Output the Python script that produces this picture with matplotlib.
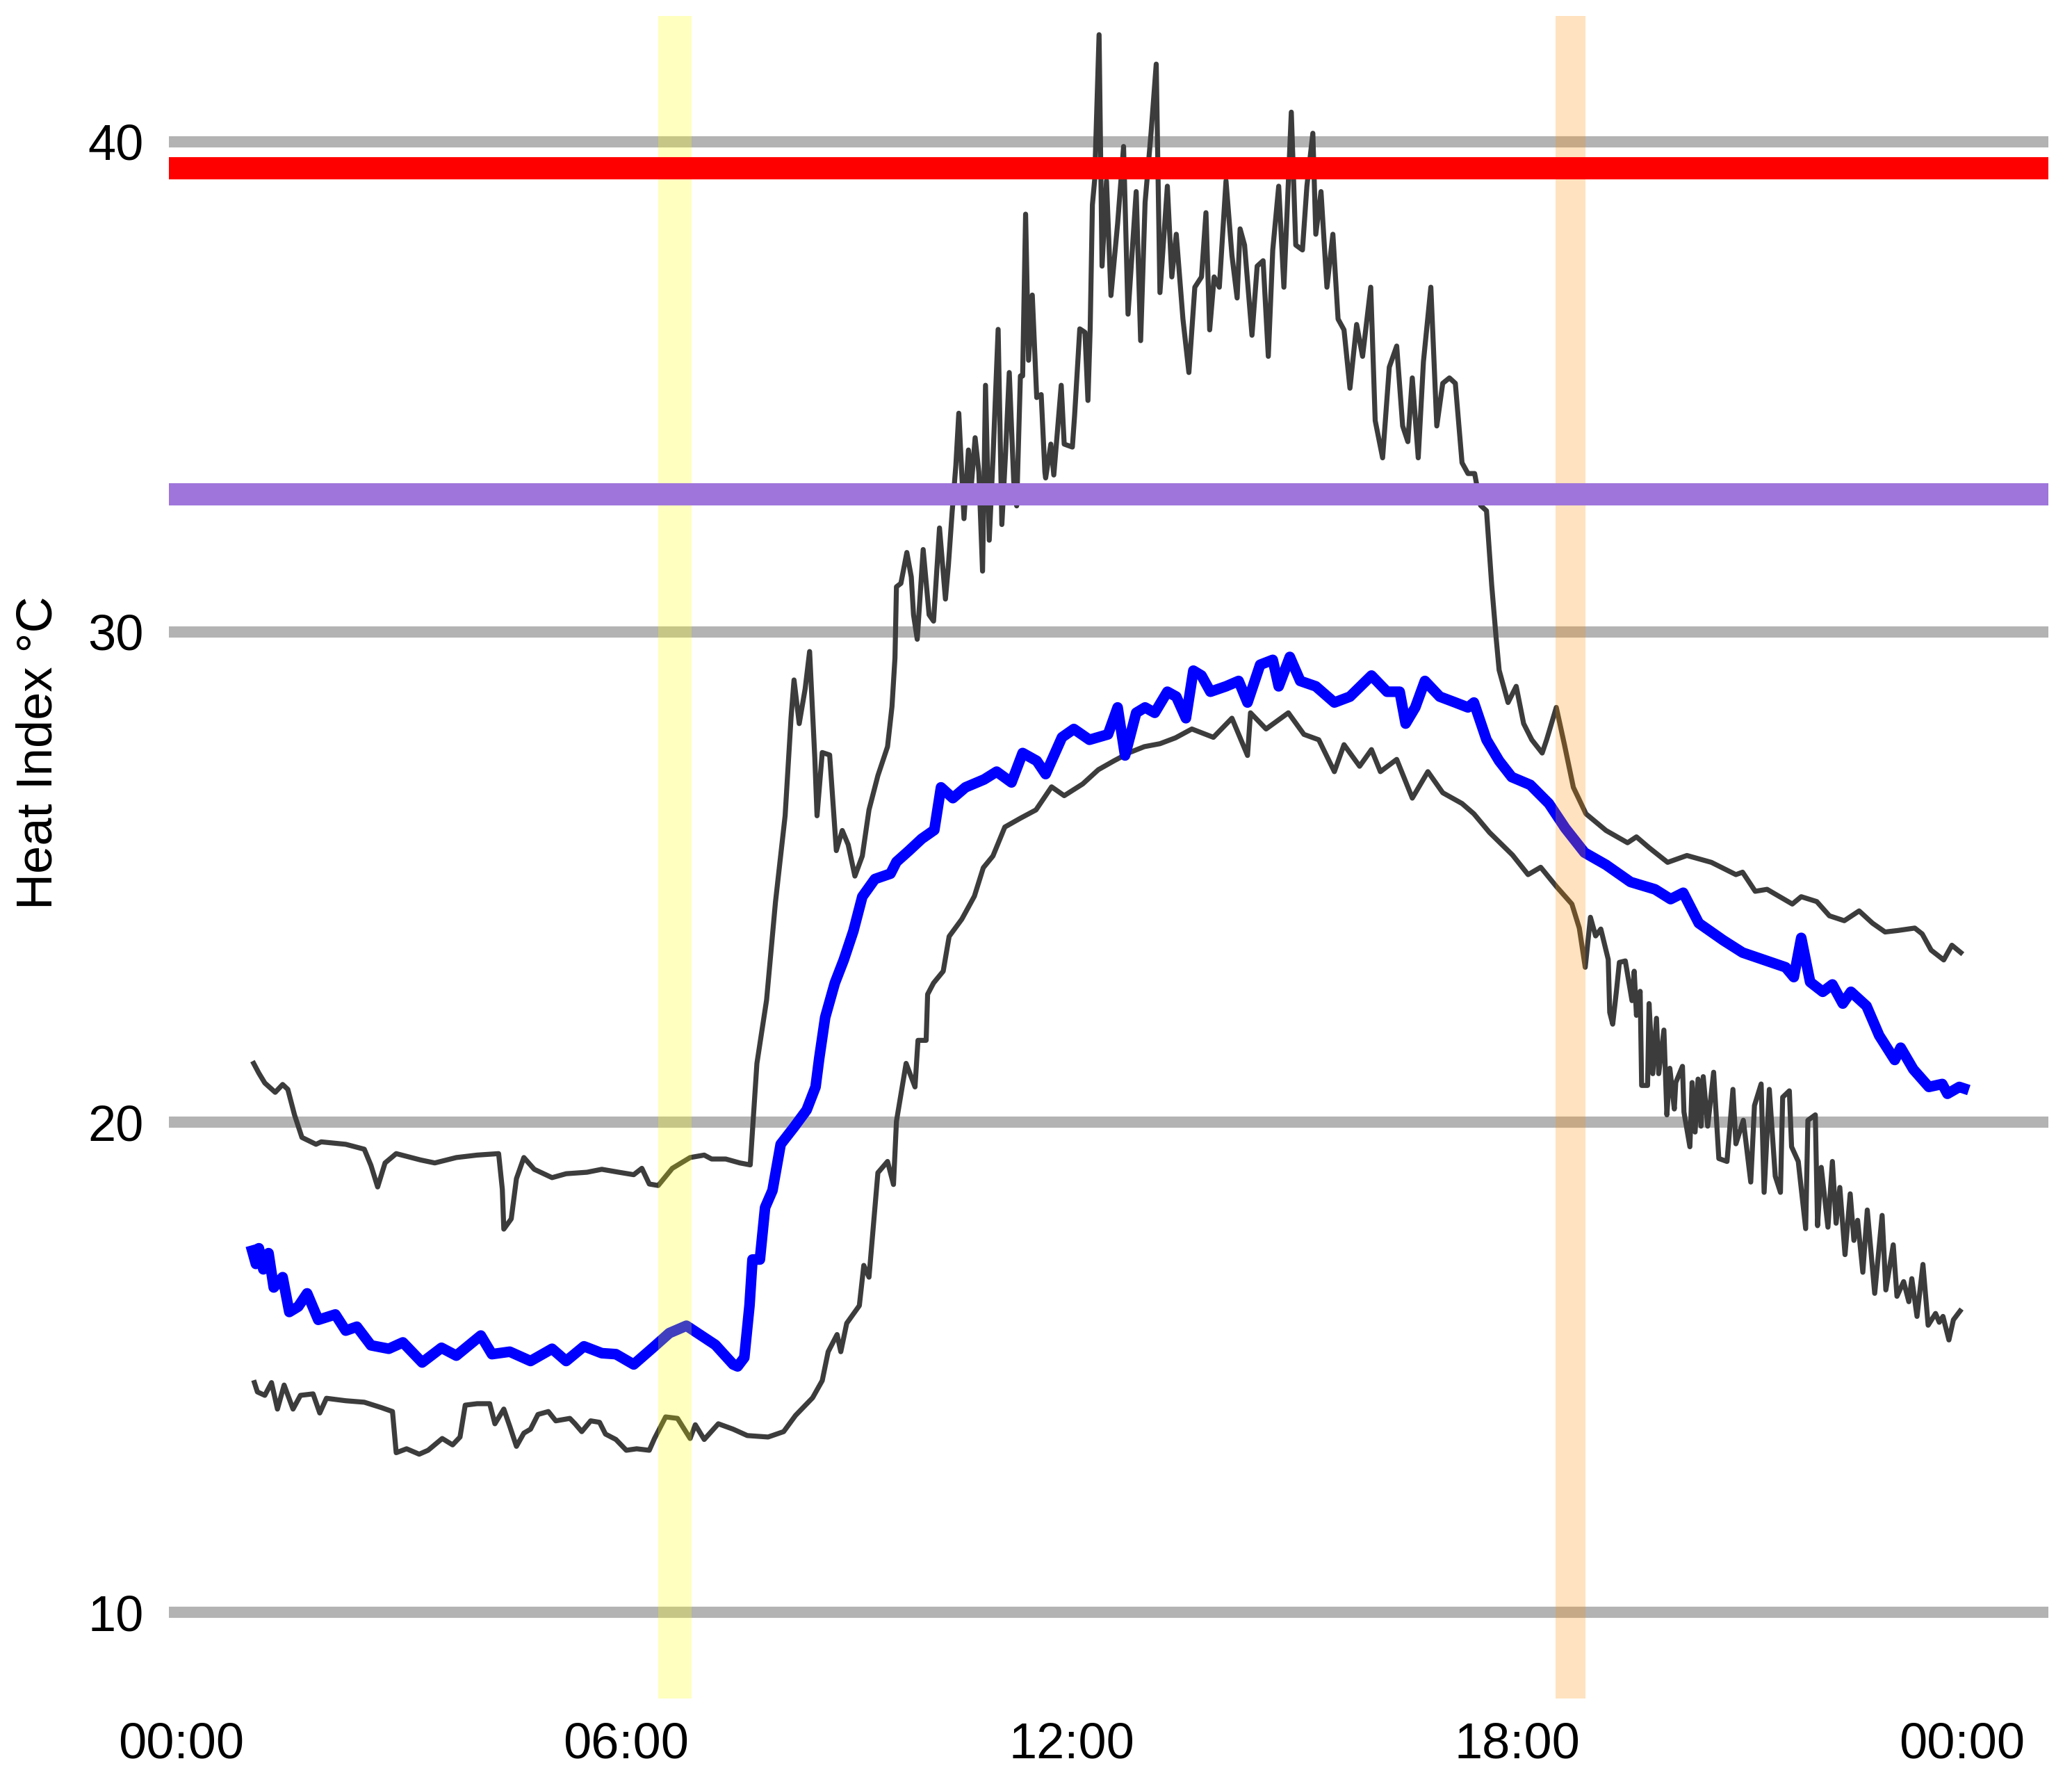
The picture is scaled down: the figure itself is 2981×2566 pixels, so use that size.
import numpy as np
import matplotlib.pyplot as plt

plt.rcParams['font.family'] = ['Liberation Sans', 'DejaVu Sans']

# (hour of day, heat index degC)
mean_series = [
    (0.96, 17.38), (1.01, 17.11), (1.05, 17.43), (1.11, 17.0), (1.18, 17.33), (1.25, 16.63),
    (1.37, 16.84), (1.46, 16.13), (1.58, 16.24), (1.70, 16.51), (1.85, 15.97), (2.08, 16.08),
    (2.22, 15.75), (2.37, 15.83), (2.56, 15.45), (2.80, 15.38), (2.99, 15.51), (3.25, 15.1),
    (3.51, 15.4), (3.71, 15.24), (4.04, 15.65), (4.19, 15.27), (4.43, 15.32), (4.71, 15.13),
    (5.00, 15.38), (5.19, 15.13), (5.43, 15.43), (5.67, 15.29), (5.86, 15.27), (6.10, 15.06),
    (6.38, 15.43), (6.58, 15.7), (6.81, 15.85), (7.01, 15.65), (7.20, 15.46), (7.44, 15.06),
    (7.50, 15.02), (7.59, 15.2), (7.66, 16.26), (7.70, 17.2), (7.80, 17.2), (7.87, 18.26),
    (7.97, 18.61), (8.08, 19.55), (8.26, 19.9), (8.43, 20.25), (8.55, 20.72), (8.60, 21.31),
    (8.68, 22.14), (8.81, 22.84), (8.93, 23.31), (9.06, 23.9), (9.18, 24.6), (9.35, 24.96),
    (9.56, 25.07), (9.64, 25.31), (9.81, 25.54), (9.98, 25.78), (10.15, 25.96), (10.24, 26.83),
    (10.40, 26.61), (10.57, 26.83), (10.82, 26.99), (10.99, 27.15), (11.19, 26.93), (11.34, 27.53),
    (11.53, 27.37), (11.65, 27.1), (11.87, 27.85), (12.03, 28.02), (12.24, 27.8), (12.49, 27.91),
    (12.62, 28.46), (12.72, 27.48), (12.87, 28.35), (12.99, 28.46), (13.12, 28.35), (13.29, 28.78),
    (13.41, 28.68), (13.54, 28.24), (13.64, 29.21), (13.75, 29.11), (13.87, 28.78), (14.08, 28.89),
    (14.25, 29.0), (14.37, 28.56), (14.54, 29.33), (14.71, 29.43), (14.79, 28.89), (14.94, 29.49),
    (15.08, 29.0), (15.29, 28.89), (15.54, 28.56), (15.75, 28.68), (16.04, 29.11), (16.25, 28.78),
    (16.42, 28.78), (16.50, 28.13), (16.63, 28.46), (16.76, 29.0), (16.96, 28.68), (17.17, 28.56),
    (17.34, 28.46), (17.42, 28.56), (17.59, 27.8), (17.76, 27.37), (17.93, 27.04), (18.18, 26.88),
    (18.43, 26.5), (18.65, 26.0), (18.91, 25.5), (19.20, 25.25), (19.53, 24.9), (19.86, 24.75),
    (20.07, 24.55), (20.24, 24.68), (20.45, 24.06), (20.78, 23.71), (21.04, 23.46), (21.33, 23.31),
    (21.62, 23.16), (21.73, 22.96), (21.83, 23.76), (21.95, 22.86), (22.12, 22.66), (22.25, 22.81),
    (22.39, 22.42), (22.50, 22.66), (22.71, 22.37), (22.88, 21.77), (23.09, 21.27), (23.17, 21.52),
    (23.34, 21.08), (23.55, 20.72), (23.73, 20.78), (23.80, 20.58), (23.96, 20.72), (24.02, 20.69),
]

max_series = [
    (0.98, 21.2), (1.05, 21.0), (1.13, 20.8), (1.27, 20.61), (1.37, 20.77), (1.44, 20.67),
    (1.53, 20.15), (1.63, 19.69), (1.82, 19.55), (1.89, 19.6), (2.22, 19.55), (2.47, 19.45),
    (2.56, 19.12), (2.65, 18.68), (2.75, 19.17), (2.90, 19.36), (3.23, 19.23), (3.42, 19.17),
    (3.71, 19.28), (3.99, 19.33), (4.28, 19.36), (4.33, 18.63), (4.35, 17.82), (4.45, 18.03),
    (4.52, 18.85), (4.62, 19.28), (4.76, 19.04), (5.00, 18.87), (5.19, 18.95), (5.47, 18.98),
    (5.67, 19.04), (5.90, 18.98), (6.10, 18.93), (6.21, 19.06), (6.31, 18.74), (6.43, 18.71),
    (6.62, 19.06), (6.86, 19.28), (7.05, 19.33), (7.15, 19.25), (7.34, 19.25), (7.53, 19.17),
    (7.67, 19.13), (7.76, 21.2), (7.89, 22.49), (8.01, 24.49), (8.14, 26.25), (8.22, 28.25),
    (8.26, 29.02), (8.33, 28.13), (8.41, 28.84), (8.47, 29.6), (8.54, 27.43), (8.57, 26.25),
    (8.64, 27.54), (8.74, 27.49), (8.83, 25.54), (8.91, 25.95), (8.99, 25.66), (9.08, 25.02),
    (9.18, 25.43), (9.27, 26.37), (9.39, 27.07), (9.52, 27.66), (9.58, 28.48), (9.62, 29.47),
    (9.64, 30.92), (9.70, 30.99), (9.78, 31.62), (9.84, 31.12), (9.87, 30.35), (9.92, 29.85),
    (10.00, 31.68), (10.08, 30.35), (10.14, 30.22), (10.22, 32.12), (10.30, 30.67), (10.34, 31.36),
    (10.39, 32.44), (10.44, 33.39), (10.48, 34.46), (10.55, 32.31), (10.61, 33.71), (10.65, 33.01),
    (10.70, 33.96), (10.75, 33.26), (10.80, 31.24), (10.84, 35.03), (10.89, 31.87), (10.94, 33.52),
    (11.01, 36.17), (11.06, 32.19), (11.11, 33.64), (11.16, 35.29), (11.22, 33.07), (11.26, 32.57),
    (11.31, 35.22), (11.34, 35.22), (11.38, 38.52), (11.42, 35.54), (11.47, 36.87), (11.53, 34.78),
    (11.59, 34.84), (11.64, 33.26), (11.65, 33.14), (11.72, 33.83), (11.76, 33.2), (11.86, 35.03),
    (11.90, 33.83), (12.01, 33.77), (12.04, 34.41), (12.11, 36.18), (12.18, 36.11), (12.22, 34.72),
    (12.25, 36.18), (12.28, 38.71), (12.31, 39.21), (12.37, 42.18), (12.41, 37.46), (12.47, 39.2),
    (12.53, 36.86), (12.62, 38.33), (12.70, 39.9), (12.76, 36.48), (12.87, 38.98), (12.93, 35.94),
    (12.99, 38.76), (13.07, 40.17), (13.14, 41.58), (13.19, 36.92), (13.29, 39.09), (13.35, 37.24),
    (13.41, 38.11), (13.50, 36.38), (13.58, 35.29), (13.66, 37.03), (13.75, 37.24), (13.81, 38.55),
    (13.86, 36.16), (13.92, 37.24), (13.99, 37.03), (14.08, 39.2), (14.16, 37.68), (14.23, 36.81),
    (14.27, 38.22), (14.33, 37.89), (14.43, 36.05), (14.50, 37.46), (14.58, 37.57), (14.65, 35.62),
    (14.71, 37.79), (14.79, 39.09), (14.86, 37.03), (14.96, 40.6), (15.02, 37.89), (15.11, 37.79),
    (15.17, 39.09), (15.25, 40.17), (15.29, 38.11), (15.36, 38.98), (15.44, 37.03), (15.52, 38.11),
    (15.59, 36.38), (15.67, 36.16), (15.75, 34.97), (15.84, 36.27), (15.92, 35.62), (16.03, 37.03),
    (16.09, 34.31), (16.19, 33.55), (16.28, 35.4), (16.38, 35.83), (16.46, 34.2), (16.53, 33.88),
    (16.59, 35.18), (16.67, 33.55), (16.74, 35.51), (16.84, 37.03), (16.92, 34.2), (17.00, 35.07),
    (17.09, 35.18), (17.17, 35.07), (17.26, 33.45), (17.34, 33.23), (17.43, 33.23), (17.51, 32.58),
    (17.59, 32.47), (17.66, 30.95), (17.72, 29.87), (17.76, 29.22), (17.88, 28.56), (17.99, 28.89),
    (18.09, 28.13), (18.20, 27.8), (18.34, 27.53), (18.40, 27.8), (18.53, 28.46), (18.64, 27.7),
    (18.76, 26.83), (18.93, 26.29), (19.20, 25.95), (19.49, 25.7), (19.61, 25.82), (19.78, 25.6),
    (20.03, 25.3), (20.29, 25.44), (20.62, 25.3), (20.95, 25.05), (21.04, 25.1), (21.21, 24.71),
    (21.37, 24.75), (21.71, 24.45), (21.83, 24.6), (22.04, 24.5), (22.21, 24.21), (22.41, 24.11),
    (22.61, 24.31), (22.79, 24.06), (22.96, 23.88), (23.13, 23.91), (23.36, 23.96), (23.46, 23.84),
    (23.58, 23.51), (23.75, 23.31), (23.86, 23.61), (23.98, 23.46),
]

min_series = [
    (0.99, 14.69), (1.03, 14.5), (1.13, 14.43), (1.22, 14.69), (1.30, 14.15), (1.39, 14.64),
    (1.51, 14.15), (1.61, 14.43), (1.78, 14.46), (1.87, 14.07), (1.96, 14.37), (2.22, 14.32),
    (2.47, 14.29), (2.70, 14.18), (2.85, 14.1), (2.90, 13.26), (3.04, 13.34), (3.21, 13.23),
    (3.33, 13.31), (3.52, 13.55), (3.66, 13.42), (3.76, 13.58), (3.83, 14.23), (3.99, 14.26),
    (4.16, 14.26), (4.23, 13.85), (4.35, 14.15), (4.43, 13.8), (4.52, 13.39), (4.62, 13.66),
    (4.71, 13.74), (4.81, 14.04), (4.95, 14.1), (5.05, 13.91), (5.24, 13.96), (5.31, 13.85),
    (5.40, 13.69), (5.52, 13.91), (5.64, 13.88), (5.72, 13.64), (5.86, 13.53), (6.00, 13.31),
    (6.14, 13.34), (6.31, 13.31), (6.38, 13.55), (6.53, 13.99), (6.69, 13.96), (6.86, 13.55),
    (6.93, 13.83), (7.05, 13.53), (7.24, 13.85), (7.44, 13.74), (7.63, 13.61), (7.91, 13.58),
    (8.12, 13.69), (8.28, 14.02), (8.51, 14.38), (8.64, 14.73), (8.72, 15.32), (8.84, 15.67),
    (8.89, 15.32), (8.97, 15.9), (9.14, 16.26), (9.20, 17.08), (9.27, 16.84), (9.35, 18.26),
    (9.39, 18.97), (9.52, 19.2), (9.60, 18.73), (9.64, 20.02), (9.77, 21.2), (9.89, 20.72),
    (9.93, 21.67), (10.04, 21.67), (10.06, 22.61), (10.14, 22.84), (10.27, 23.08), (10.35, 23.79),
    (10.52, 24.14), (10.69, 24.61), (10.81, 25.19), (10.94, 25.43), (11.10, 26.02), (11.31, 26.2),
    (11.52, 26.37), (11.73, 26.84), (11.90, 26.66), (12.15, 26.9), (12.36, 27.19), (12.57, 27.37),
    (12.78, 27.54), (12.98, 27.66), (13.19, 27.72), (13.40, 27.84), (13.62, 28.02), (13.91, 27.85),
    (14.16, 28.24), (14.37, 27.48), (14.41, 28.35), (14.62, 28.02), (14.92, 28.35), (15.13, 27.91),
    (15.33, 27.8), (15.54, 27.15), (15.67, 27.7), (15.88, 27.26), (16.04, 27.6), (16.16, 27.15),
    (16.38, 27.4), (16.59, 26.61), (16.80, 27.15), (17.00, 26.72), (17.26, 26.5), (17.42, 26.29),
    (17.63, 25.91), (17.94, 25.45), (18.15, 25.05), (18.32, 25.2), (18.53, 24.81), (18.74, 24.45),
    (18.84, 23.96), (18.92, 23.16), (18.99, 24.18), (19.06, 23.8), (19.13, 23.94), (19.23, 23.32),
    (19.25, 22.24), (19.29, 22.0), (19.34, 22.67), (19.38, 23.26), (19.46, 23.29), (19.55, 22.48),
    (19.58, 23.08), (19.61, 22.18), (19.66, 22.67), (19.68, 20.75), (19.76, 20.75), (19.78, 22.42),
    (19.83, 20.99), (19.88, 22.12), (19.91, 20.99), (19.98, 21.88), (20.02, 20.15), (20.06, 21.1),
    (20.12, 20.27), (20.14, 20.81), (20.23, 21.14), (20.25, 20.21), (20.33, 19.5), (20.36, 20.81),
    (20.40, 19.8), (20.44, 20.88), (20.48, 19.92), (20.51, 20.93), (20.57, 19.92), (20.65, 21.02),
    (20.72, 19.26), (20.83, 19.2), (20.91, 20.67), (20.95, 19.56), (21.05, 20.04), (21.15, 18.78),
    (21.20, 20.34), (21.29, 20.78), (21.33, 18.57), (21.40, 20.67), (21.48, 18.9), (21.55, 18.57),
    (21.58, 20.51), (21.67, 20.64), (21.70, 19.5), (21.79, 19.2), (21.85, 18.37), (21.89, 17.83),
    (21.92, 20.04), (22.02, 20.15), (22.05, 17.89), (22.10, 19.08), (22.19, 17.86), (22.25, 19.2),
    (22.30, 17.94), (22.35, 18.67), (22.42, 17.3), (22.49, 18.54), (22.54, 17.59), (22.59, 18.0),
    (22.66, 16.94), (22.72, 18.21), (22.82, 16.51), (22.92, 18.1), (22.97, 16.58), (23.07, 17.5),
    (23.12, 16.45), (23.21, 16.75), (23.28, 16.34), (23.32, 16.81), (23.39, 16.04), (23.47, 17.1),
    (23.54, 15.86), (23.64, 16.1), (23.69, 15.92), (23.74, 16.04), (23.82, 15.56), (23.88, 15.97),
    (23.97, 16.15),
]

# reference thresholds and shaded windows
danger_level = 39.45
caution_level = 32.8
sunrise_window = (6.43, 6.88)
sunset_window = (18.52, 18.92)

tick_hours = [0, 6, 12, 18, 24]
tick_labels = ['00:00', '06:00', '12:00', '18:00', '00:00']
y_ticks = [10, 20, 30, 40]

fig = plt.figure(figsize=(14.905, 12.83), dpi=200)
ax = fig.add_axes([0.0816, 0.048, 0.907, 0.943])

for y in y_ticks:
    ax.axhline(y, color='#b3b3b3', lw=5.8, zorder=0)

for series in (max_series, min_series):
    h, v = np.array(series).T
    ax.plot(h, v, color='#3c3c3c', lw=2.6, zorder=2)

h, v = np.array(mean_series).T
ax.plot(h, v, color='#0000ff', lw=5.5, zorder=2.5)

# shaded windows sit over the data but under the threshold bars
ax.axvspan(*sunrise_window, color='yellow', alpha=0.25, lw=0, zorder=3)
ax.axvspan(*sunset_window, color='darkorange', alpha=0.25, lw=0, zorder=3)

ax.axhline(danger_level, color='#ff0000', lw=11.5, zorder=4)
ax.axhline(caution_level, color='#9f75db', lw=11.5, zorder=4)

ax.set_xlim(-0.16, 25.16)
ax.set_ylim(8.25, 42.56)
ax.set_xticks(tick_hours)
ax.set_xticklabels(tick_labels)
ax.set_yticks(y_ticks)
ax.tick_params(length=0, labelsize=26, colors='black')
ax.tick_params(axis='y', pad=13)
ax.tick_params(axis='x', pad=12)
for s in ax.spines.values():
    s.set_visible(False)

ax.set_ylabel('Heat Index °C', fontsize=26)
ax.yaxis.set_label_coords(-0.057, 0.562)

fig.savefig('out.png', dpi=200)
